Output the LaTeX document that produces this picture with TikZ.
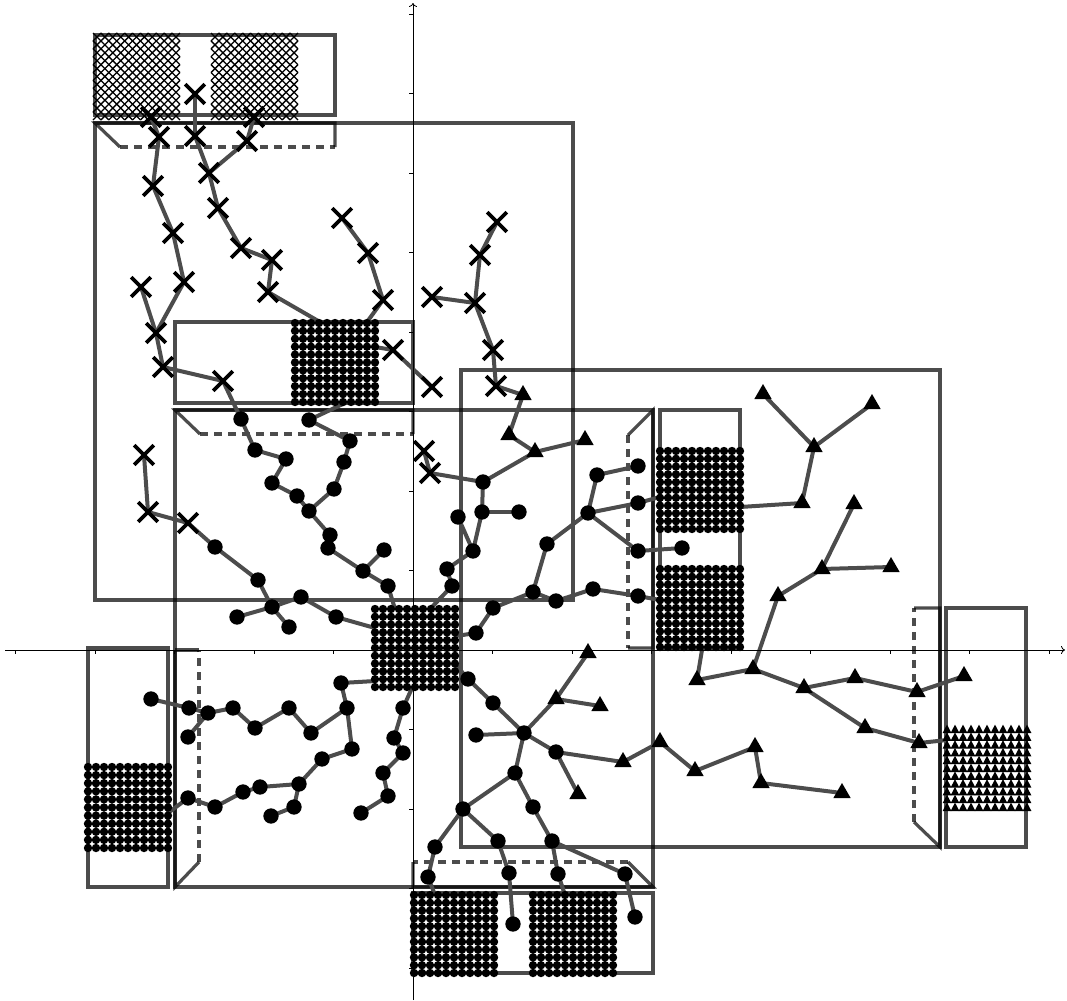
\documentclass[tikz,border=0pt]{standalone}
\usepackage{amsmath,amssymb}
\usepackage{tikz}
\usetikzlibrary{shapes.geometric,shapes.misc,arrows.meta}
\pgfdeclarelayer{back}
\pgfsetlayers{back,main}

\begin{document}
\begin{tikzpicture}[x=0.75pt,y=0.75pt,yscale=-1,xscale=1,
  frame/.style={draw=black,draw opacity=0.7,line width=2.4pt},
  drawerdash/.style={frame,dash pattern={on 6pt off 4.5pt}},
  link/.style={draw=black!70,line width=3pt},
  dotnode/.style={circle,fill=black,inner sep=0pt,minimum size=11.5pt},
  xnode/.style={cross out,draw=black,line width=2.8pt,inner sep=0pt,minimum size=12pt},
  trinode/.style={regular polygon,regular polygon sides=3,fill=black,inner sep=0pt,minimum size=15pt}]
\useasboundingbox (0,0) rectangle (1067,1000);

%Axes
\draw [line width=0.6pt,-{To[length=3pt,width=6pt]}] (5,650) -- (1065,650) ;
\draw [line width=0.6pt,-{To[length=3pt,width=6pt]}] (413,1000) -- (413,3) ;
\foreach \k in {-5,...,-1,1,2,...,8} \draw [line width=0.6pt] (413+79.5*\k,650) -- (413+79.5*\k,654) ;
\foreach \k in {-4,...,-1,1,2,...,8} \draw [line width=0.6pt] (413,650-79.5*\k) -- (409,650-79.5*\k) ;

%Cross markers
\foreach \n/\a/\b in {x1/195/94, x2/151/117, x3/159/137, x4/195/136, x5/254/117, x6/247/141,
  x7/209/173, x8/153/186, x9/218/208, x10/173/233, x11/241/248, x12/272/260, x13/184/282,
  x14/141/287, x15/268/292, x16/156/333, x17/163/367, x18/223/381, x19/342/218, x20/368/253,
  x21/383/300, x22/393/350, x23/432/387, x24/497/222, x25/480/255, x26/432/297, x27/475/303,
  x28/493/350, x29/496/386, x30/144/455, x31/148/512, x32/188/523, x33/424/451, x34/430/473}
  \node [xnode] (\n) at (\a,\b) {};

%Dot markers
\foreach \n/\a/\b in {d1/241/419, d2/255/450, d3/286/459, d4/272/483, d5/297/496, d6/309/511,
  d7/330/535, d8/328/548, d9/363/571, d10/384/550, d11/388/586, d12/309/420, d13/350/441,
  d14/344/462, d15/334/489, d16/215/547, d17/258/580, d18/272/607, d19/301/597, d20/336/617,
  d21/237/617, d22/289/627, d23/483/482, d24/482/512, d25/519/512, d26/458/517, d27/473/551,
  d28/447/569, d29/452/586, d30/476/633, d31/493/608, d32/533/592, d33/547/544, d34/588/513,
  d35/597/475, d36/638/466, d37/638/503, d38/638/551, d39/682/548, d40/556/601, d41/593/589,
  d42/638/596, d43/468/679, d44/493/703, d45/476/735, d46/524/733, d47/556/752, d48/515/773,
  d49/463/809, d50/533/807, d51/435/847, d52/498/841, d53/552/841, d54/428/877, d55/509/873,
  d56/558/874, d57/625/874, d58/513/924, d59/635/917, d60/341/683, d61/347/708, d62/311/733,
  d63/289/708, d64/255/728, d65/233/708, d66/208/713, d67/189/708, d68/151/699, d69/188/737,
  d70/352/749, d71/322/759, d72/299/784, d73/260/787, d74/243/792, d75/215/807, d76/188/798,
  d77/294/807, d78/271/816, d79/403/708, d80/394/738, d81/403/753, d82/383/773, d83/388/796,
  d84/361/813}
  \node [dotnode] (\n) at (\a,\b) {};

%Triangle markers
\foreach \n/\a/\b in {t1/523/395, t2/509/435, t3/535/452, t4/585/440, t5/763/394, t6/872/404,
  t7/814/447, t8/802/503, t9/854/504, t10/822/569, t11/891/567, t12/778/596, t13/753/669,
  t14/697/680, t15/804/688, t16/855/678, t17/917/692, t18/964/676, t19/865/728, t20/919/743,
  t21/588/653, t22/556/699, t23/600/706, t24/578/794, t25/623/762, t26/660/742, t27/695/771,
  t28/755/747, t29/761/783, t30/842/793}
  \node [trinode] (\n) at (\a,\b) {};

%Grid ends
\coordinate (gB1) at (320,322) ;
\coordinate (gB2) at (367,322) ;
\coordinate (gB3) at (375,347) ;
\coordinate (gB4) at (345,403) ;
\coordinate (hubN1) at (395,609) ;
\coordinate (hubN2) at (430,609) ;
\coordinate (hubE) at (456,636) ;
\coordinate (hubSE) at (456,665) ;
\coordinate (hubW) at (375,628) ;
\coordinate (hubSW) at (375,681) ;
\coordinate (hubS) at (412,688) ;
\coordinate (rA) at (660,497) ;
\coordinate (rB) at (660,600) ;
\coordinate (rC) at (740,507) ;
\coordinate (rD) at (702,650) ;
\coordinate (lA) at (168,813) ;
\coordinate (bA) at (435,895) ;
\coordinate (bB) at (565,895) ;
\coordinate (tA) at (947,740) ;

%Cross grids
\foreach \gx in {97,215} \foreach \i in {0,...,10} \foreach \j in {0,...,10}
  \draw [line width=1pt] (\gx+7.9*\i-4,37+7.9*\j-4) -- ++(8,8) ++(-8,0) -- ++(8,-8) ;
%Dot grids
\foreach \gx/\gy/\gs in {295/323/7.9, 375/609/7.8, 660/451/7.8, 660/569/7.8, 88/767/8.1, 414/895/7.8, 533/895/7.8}
  \foreach \i in {0,...,10} \foreach \j in {0,...,10}
    \fill (\gx+8*\i,\gy+\gs*\j) circle (4.2) ;
%Triangle grid
\foreach \i in {0,...,10} \foreach \j in {0,...,10}
  \fill (947+8*\i-4.4,729+7.8*\j+4) -- ++(8.8,0) -- ++(-4.4,-8.4) -- cycle ;

\begin{pgfonlayer}{back}
%Boxes
\draw [frame] (95,35) rectangle (335,115) ;
\draw [frame] (95,123) rectangle (573,600) ;
\draw [frame] (175,322) rectangle (413,403) ;
\draw [frame] (175,410) rectangle (653,887) ;
\draw [frame] (660,410) rectangle (740,648) ;
\draw [frame] (88,648) rectangle (168,887) ;
\draw [frame] (413,893) rectangle (653,973) ;
\draw [frame] (461,370) rectangle (940,847) ;
\draw [frame] (946,608) rectangle (1026,847) ;
%Drawers
\draw [frame] (335,147) -- (335,123) -- (95,123) -- (120,147) ;
\draw [drawerdash] (120,147) -- (335,147) ;
\draw [frame] (413,434) -- (413,410) -- (175,410) -- (200,434) ;
\draw [drawerdash] (200,434) -- (413,434) ;
\draw [frame] (628,648) -- (653,648) -- (653,410) -- (628,435) ;
\draw [drawerdash] (628,435) -- (628,648) ;
\draw [frame] (413,862) -- (413,887) -- (653,887) -- (628,862) ;
\draw [drawerdash] (628,862) -- (413,862) ;
\draw [frame] (175,650) -- (199,650) ;
\draw [frame] (175,650) -- (175,887) -- (199,862) ;
\draw [drawerdash] (199,862) -- (199,650) ;
\draw [frame] (914,608) -- (940,608) -- (940,847) -- (914,822) ;
\draw [drawerdash] (914,822) -- (914,608) ;

%Links
\foreach \a/\b in {x1/x4, x4/x7, x7/x9, x9/x11, x11/x12, x12/x15, x15/gB1, x5/x6, x6/x7,
  x2/x3, x3/x8, x8/x10, x10/x13, x13/x16, x14/x16, x16/x17, x17/x18, x18/d1, x19/x20,
  x20/x21, x21/gB2, gB3/x22, x22/x23, x24/x25, x25/x27, x26/x27, x27/x28, x28/x29, x29/t1,
  t1/t2, t2/t3, t3/t4, t3/d23, x33/x34, x34/d23, x30/x31, x31/x32, x32/d16,
  d1/d2, d2/d3, d3/d4, d4/d5, d5/d6, d6/d7, d7/d8, d8/d9, d9/d10, d9/d11, d11/hubN1,
  gB4/d12, d12/d13, d13/d14, d14/d15, d15/d6, d16/d17, d17/d18, d18/d19, d19/d20, d20/hubW,
  d18/d21, d18/d22, d23/d24, d24/d25, d24/d27, d27/d26, d27/d28, d28/d29, d29/hubN2,
  hubE/d30, d30/d31, d31/d32, d32/d33, d33/d34, d34/d35, d35/d36, d34/d37, d37/rA,
  d34/d38, d38/d39, d32/d40, d40/d41, d41/d42, d42/rB,
  rC/t8, t8/t7, t7/t5, t7/t6, t9/t10, t10/t11, t10/t12, t12/t13, t13/t14, t14/rD,
  t13/t15, t15/t16, t16/t17, t17/t18, t15/t19, t19/t20, t20/tA,
  hubSE/d43, d43/d44, d44/d46, d45/d46, d46/t22, t22/t21, t22/t23, d46/d47, d47/t25,
  d47/t24, t25/t26, t26/t27, t27/t28, t28/t29, t29/t30, d46/d48, d48/d49, d49/d51,
  d51/d54, d54/bA, d49/d52, d52/d55, d55/d58, d48/d50, d50/d53, d53/d56, d56/bB,
  d53/d57, d57/d59,
  hubSW/d60, d60/d61, d61/d62, d62/d63, d63/d64, d64/d65, d65/d66, d66/d67, d67/d68,
  d66/d69, d61/d70, d70/d71, d71/d72, d72/d73, d73/d74, d74/d75, d75/d76, d76/lA,
  d72/d77, d77/d78, hubS/d79, d79/d80, d80/d81, d81/d82, d82/d83, d83/d84}
  \draw [link] (\a.center) -- (\b.center) ;
\end{pgfonlayer}

\end{tikzpicture}
\end{document}
